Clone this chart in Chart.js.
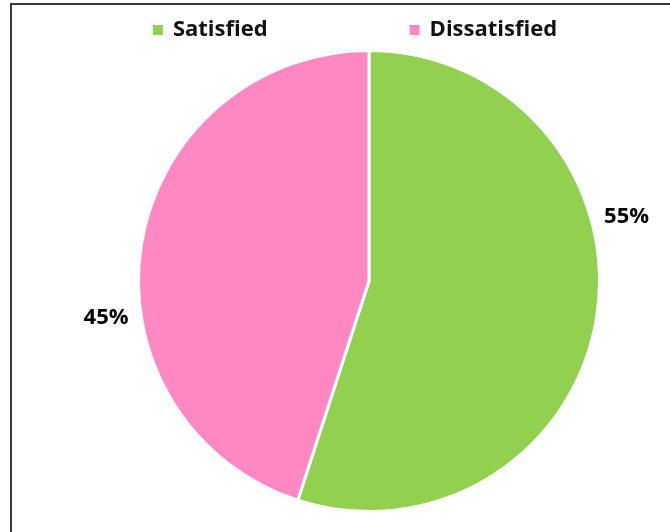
<!DOCTYPE html>
<html lang="en">
<head>
<meta charset="UTF-8">
<title>Satisfaction</title>
<script src="https://cdn.jsdelivr.net/npm/chart.js@4.4.7/dist/chart.umd.min.js"></script>
<style>
*{margin:0;padding:0;box-sizing:border-box}
html,body{width:670px;height:532px;overflow:hidden;background:#fff}
.frame{position:absolute;left:10px;top:3px;width:800px;height:700px;border:2px solid #3a3a3a}
.wrap{position:absolute;left:0;top:0;width:670px;height:532px}
</style>
</head>
<body>
<div class="frame"></div>
<div class="wrap"><canvas id="pie"></canvas></div>
<script>
const LABELS = ["Satisfied", "Dissatisfied"];
const VALUES = [55, 45];
const COLORS = ["#92d050", "#ff88c2"];

// labels sit outside the pie, nudged counter-clockwise like Excel's best fit
const LABEL_SHIFT = [-23, -17];
const FONT = "'Open Sans', sans-serif";

const outsideLabels = {
  id: "outsideLabels",
  afterDatasetsDraw(chart) {
    const ctx = chart.ctx;
    const arcs = chart.getDatasetMeta(0).data;
    ctx.save();
    ctx.font = "bold 22px " + FONT;
    ctx.fillStyle = "#000";
    ctx.textAlign = "center";
    ctx.textBaseline = "middle";
    arcs.forEach((arc, i) => {
      const p = arc.getProps(["x", "y", "startAngle", "endAngle", "outerRadius"], true);
      const a = (p.startAngle + p.endAngle) / 2 + LABEL_SHIFT[i] * Math.PI / 180;
      const r = p.outerRadius + 35;
      ctx.fillText(VALUES[i] + "%", p.x + Math.cos(a) * r, p.y + Math.sin(a) * r);
    });
    ctx.restore();
  }
};

// one-row legend with a wide gap between the two entries
const wideLegend = {
  id: "wideLegend",
  afterDraw(chart) {
    const ctx = chart.ctx;
    const gap = 142, box = 10, boxGap = 10;
    ctx.save();
    ctx.font = "bold 22px " + FONT;
    const widths = LABELS.map(t => box + boxGap + ctx.measureText(t).width);
    const total = widths.reduce((s, w) => s + w, 0) + gap * (LABELS.length - 1);
    const cx = (chart.chartArea.left + chart.chartArea.right) / 2 - 14;
    let x = cx - total / 2;
    const y = 30;
    ctx.textBaseline = "middle";
    LABELS.forEach((t, i) => {
      ctx.fillStyle = COLORS[i];
      ctx.fillRect(x, y - box / 2, box, box);
      ctx.fillStyle = "#111";
      ctx.fillText(t, x + box + boxGap, y);
      x += widths[i] + gap;
    });
    ctx.restore();
  }
};

new Chart(document.getElementById("pie"), {
  type: "pie",
  data: {
    labels: LABELS,
    datasets: [{data: VALUES, backgroundColor: COLORS, borderColor: "#fff", borderWidth: 3}]
  },
  options: {
    responsive: true,
    maintainAspectRatio: false,
    animation: false,
    layout: {padding: {left: 68, right: 0, top: 49, bottom: 19}},
    plugins: {
      legend: {display: false},
      tooltip: {enabled: false}
    }
  },
  plugins: [outsideLabels, wideLegend]
});
</script>
</body>
</html>
